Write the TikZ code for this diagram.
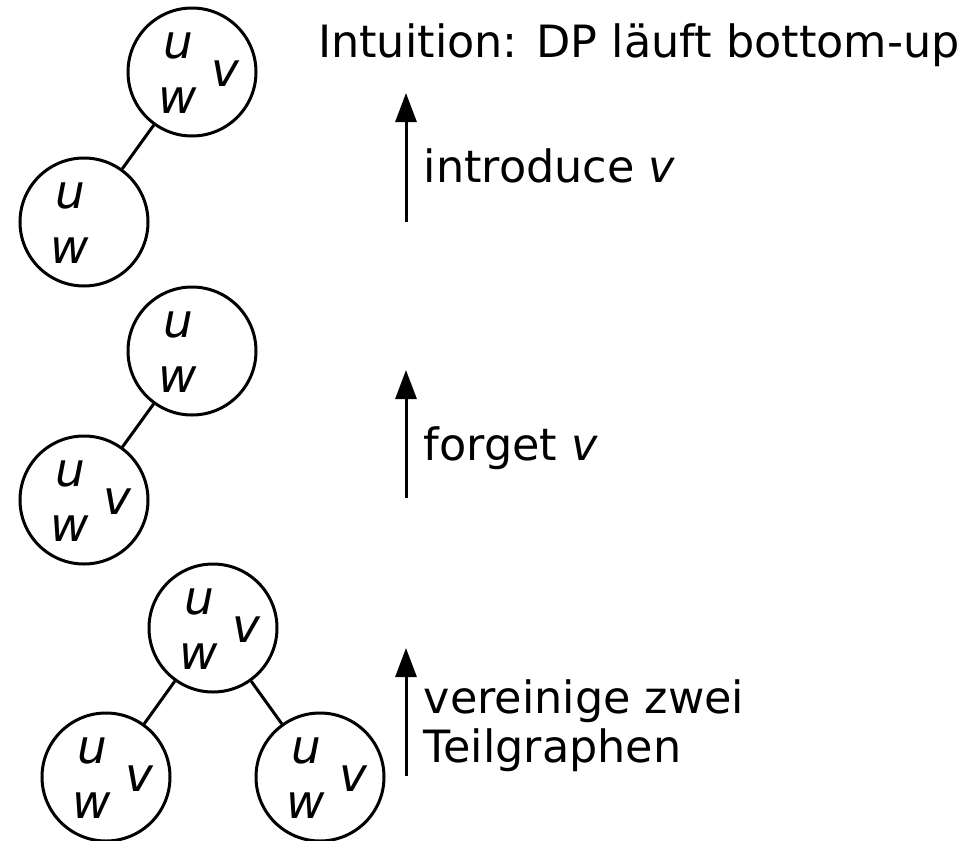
\documentclass[tikz,border=0pt]{standalone}
\usepackage{fontspec}
\setmainfont{DejaVu Sans}
\usetikzlibrary{arrows.meta}
\begin{document}
\begin{tikzpicture}[x=1pt,y=-1pt,
  bag/.style={circle,draw,line width=3pt,minimum size=128pt,inner sep=0pt},
  var/.style={inner sep=0pt,anchor=base,font=\fontsize{47}{54}\selectfont\itshape},
  txt/.style={inner sep=0pt,anchor=base west,font=\fontsize{44.5}{52}\selectfont},
  edge/.style={line width=3pt},
  up/.style={line width=3pt,-{Triangle[length=29pt,width=21pt]}}]
\useasboundingbox (0,0) rectangle (975,841);
% bags
\node[bag] (A1) at (192,72) {};
\node[bag] (A2) at (84,222) {};
\node[bag] (B1) at (192,351) {};
\node[bag] (B2) at (84,500) {};
\node[bag] (C1) at (213,628) {};
\node[bag] (C2) at (106,777) {};
\node[bag] (C3) at (320,777) {};
% variables
\foreach \b in {A1,A2,B1,B2,C1,C2,C3}{
  \node[var] (\b u) at ([shift={(-14,-14)}]\b.center) {u};
  \node[var] (\b w) at ([shift={(-14,41)}]\b.center) {w};
}
\foreach \b in {A1,B2,C1,C2,C3}{
  \node[var] (\b v) at ([shift={(33,14)}]\b.center) {v};
}
% tree edges
\draw[edge] (A1) -- (A2);
\draw[edge] (B1) -- (B2);
\draw[edge] (C1) -- (C2);
\draw[edge] (C1) -- (C3);
% arrows
\coordinate (a1s) at (406,222); \coordinate (a1e) at (406,93);
\coordinate (a2s) at (406,498); \coordinate (a2e) at (406,370);
\coordinate (a3s) at (406,776); \coordinate (a3e) at (406,648);
\draw[up] (a1s) -- (a1e);
\draw[up] (a2s) -- (a2e);
\draw[up] (a3s) -- (a3e);
% texts
\node[txt] (title) at (318,57) {Intuition: DP läuft bottom-up};
\node[txt] (l1) at (423.5,182) {introduce \textit{v}};
\node[txt] (l2) at (423.5,460) {forget \textit{v}};
\node[txt] (l3a) at (423.5,713) {vereinige zwei};
\node[txt] (l3b) at (423.5,762) {Teilgraphen};
\end{tikzpicture}
\end{document}
